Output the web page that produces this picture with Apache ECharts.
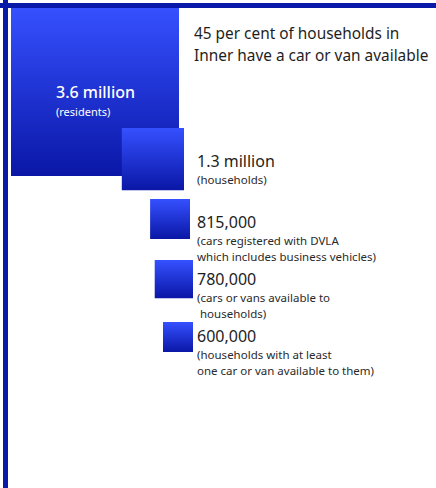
<!DOCTYPE html>
<html>
<head>
<meta charset="utf-8">
<script src="https://cdn.jsdelivr.net/npm/echarts@6/dist/echarts.min.js"></script>
<style>html,body{margin:0;padding:0;background:#fff;}#c{width:436px;height:488px;}</style>
</head>
<body>
<div id="c"></div>
<script>
// ---- data ----
const categories = ['residents', 'households', 'cars registered with DVLA', 'cars or vans available to households', 'households with a car or van'];
const values = [3600000, 1300000, 815000, 780000, 600000];
const valueLabels = ['3.6 million', '1.3 million', '815,000', '780,000', '600,000'];
const notes = [
  '(residents)',
  '(households)',
  '(cars registered with DVLA\nwhich includes business vehicles)',
  '(cars or vans available to\n households)',
  '(households with at least\none car or van available to them)'
];
const headline = ['45 per cent of households in', 'Inner have a car or van available'];

// ---- layout (anchor points in the hidden page axes) ----
const layout = {
  squareRight: [179, 184, 190, 193, 193],
  squareTop: [8, 128, 199, 260, 322],
  labelLeft: [56, 197, 197, 197, 197],
  labelTop: [81, 151, 212, 269, 326]
};

const FONT = '"Noto Sans", "Open Sans", sans-serif';
const chart = echarts.init(document.getElementById('c'), null, { renderer: 'svg' });

const squareData = values.map((v, i) => ({ name: categories[i], value: [layout.squareRight[i], layout.squareTop[i], v] }));
const labelData = values.map((v, i) => {
  const nk = i === 0 ? 'bn' : 'n';
  const sk = i === 0 ? 'bs' : 's';
  const noteLines = notes[i].split('\n').map(t => '{' + sk + '|' + t + '}').join('\n');
  return {
    name: categories[i],
    value: [layout.labelLeft[i], layout.labelTop[i]],
    label: { formatter: '{' + nk + '|' + valueLabels[i] + '}\n' + noteLines }
  };
});

chart.setOption({
  animation: false,
  title: {
    text: headline.join('\n'),
    left: 194, top: 22, padding: 0,
    textStyle: { fontFamily: FONT, fontSize: 15.4, fontWeight: 'normal', color: '#1e1e1e', lineHeight: 22 }
  },
  grid: { left: 0, top: 0, width: 436, height: 488 },
  xAxis: {
    type: 'value', min: 0, max: 436, position: 'top', offset: -5.5,
    axisLine: { show: true, onZero: false, lineStyle: { color: '#0a1aa8', width: 5 } },
    axisTick: { show: false }, axisLabel: { show: false }, splitLine: { show: false }
  },
  yAxis: {
    type: 'value', min: 0, max: 488, inverse: true, position: 'left', offset: -5.5,
    axisLine: { show: true, onZero: false, lineStyle: { color: '#0a1aa8', width: 5 } },
    axisTick: { show: false }, axisLabel: { show: false }, splitLine: { show: false }
  },
  visualMap: {
    show: false, seriesIndex: 0, dimension: 2,
    min: 600000, max: 3600000,
    inRange: { symbolSize: [30, 168] }
  },
  series: [
    {
      type: 'scatter',
      symbol: 'rect',
      symbolOffset: ['-50%', '50%'],
      silent: true,
      itemStyle: {
        opacity: 1,
        color: new echarts.graphic.LinearGradient(0, 0, 0, 1, [
          { offset: 0, color: '#3550ff' },
          { offset: 1, color: '#0a17a6' }
        ])
      },
      data: squareData,
      z: 2
    },
    {
      type: 'scatter',
      symbolSize: 0,
      silent: true,
      z: 5,
      itemStyle: { opacity: 1 },
      label: {
        show: true,
        opacity: 1,
        position: [0, 0],
        align: 'left',
        verticalAlign: 'top',
        fontFamily: FONT,
        rich: {
          bn: { fontFamily: FONT, fontSize: 16, fontWeight: 500, color: '#ffffff', lineHeight: 22 },
          bs: { fontFamily: FONT, fontSize: 11, color: '#ffffff', lineHeight: 16 },
          n: { fontFamily: FONT, fontSize: 16, color: '#1e1e1e', lineHeight: 20 },
          s: { fontFamily: FONT, fontSize: 11.5, color: '#2a2a2a', lineHeight: 16 }
        }
      },
      data: labelData
    }
  ]
});
</script>
</body>
</html>
